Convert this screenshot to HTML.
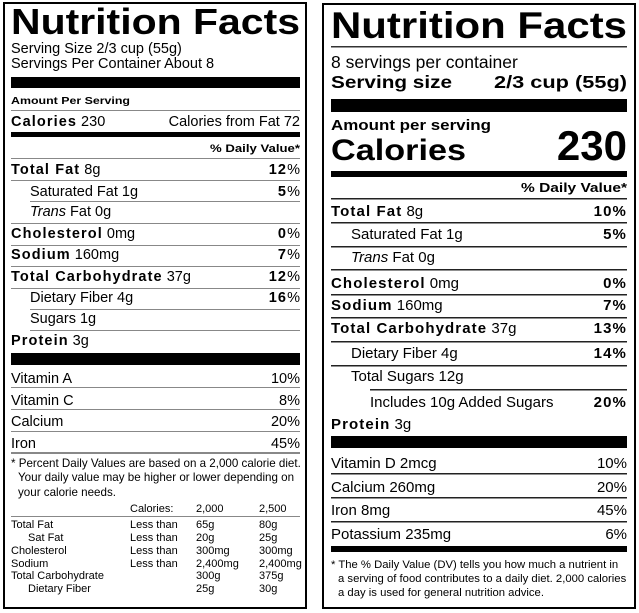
<!DOCTYPE html>
<html><head><meta charset="utf-8"><style>
html,body{margin:0;padding:0;background:#fff}
svg{display:block}
text{font-family:"Liberation Sans",Arial,sans-serif;fill:#000}
.b{font-weight:bold;letter-spacing:1.1px}
.t{font-weight:bold}
</style></head><body>
<svg width="639" height="613" viewBox="0 0 639 613" xmlns="http://www.w3.org/2000/svg">
<!-- LEFT LABEL -->
<rect x="4" y="3" width="302" height="605" fill="none" stroke="#000" stroke-width="2"/>
<text x="11" y="34" font-size="36" class="t" textLength="289" lengthAdjust="spacingAndGlyphs">Nutrition Facts</text>
<text x="11" y="53" font-size="14.5">Serving Size 2/3 cup (55g)</text>
<text x="11" y="68" font-size="14.5">Servings Per Container About 8</text>
<rect x="11" y="77" width="289" height="11" fill="#000"/>
<text x="11" y="104" font-size="10" class="t" textLength="119" lengthAdjust="spacingAndGlyphs">Amount Per Serving</text>
<rect x="11" y="110" width="289" height="1" fill="#888"/>
<text x="11" y="126" font-size="14.5"><tspan class="b">Calories</tspan> 230</text>
<text x="300" y="126" font-size="14.5" text-anchor="end">Calories from Fat 72</text>
<rect x="11" y="132" width="289" height="5" fill="#000"/>
<text x="210" y="152" font-size="11" class="t" textLength="90" lengthAdjust="spacingAndGlyphs">% Daily Value*</text>
<g fill="#888">
<rect x="11" y="158" width="289" height="1"/>
<rect x="11" y="180" width="289" height="1"/>
<rect x="30" y="201" width="270" height="1"/>
<rect x="11" y="223" width="289" height="1"/>
<rect x="11" y="245" width="289" height="1"/>
<rect x="11" y="266" width="289" height="1"/>
<rect x="11" y="288" width="289" height="1"/>
<rect x="30" y="309" width="270" height="1"/>
<rect x="30" y="330" width="270" height="1"/>
<rect x="11" y="387" width="289" height="1"/>
<rect x="11" y="409" width="289" height="1"/>
<rect x="11" y="431" width="289" height="1"/>
<rect x="11" y="452" width="289" height="2"/>
<rect x="11" y="516" width="289" height="1"/>
</g>
<g font-size="14.5">
<text x="11" y="174"><tspan class="b">Total Fat</tspan> 8g</text>
<text x="300" y="174" text-anchor="end"><tspan class="b">12</tspan>%</text>
<text x="30" y="196">Saturated Fat 1g</text>
<text x="300" y="196" text-anchor="end"><tspan class="b">5</tspan>%</text>
<text x="30" y="216"><tspan font-style="italic">Trans</tspan> Fat 0g</text>
<text x="11" y="238"><tspan class="b">Cholesterol</tspan> 0mg</text>
<text x="300" y="238" text-anchor="end"><tspan class="b">0</tspan>%</text>
<text x="11" y="259"><tspan class="b">Sodium</tspan> 160mg</text>
<text x="300" y="259" text-anchor="end"><tspan class="b">7</tspan>%</text>
<text x="11" y="281"><tspan class="b">Total Carbohydrate</tspan> 37g</text>
<text x="300" y="281" text-anchor="end"><tspan class="b">12</tspan>%</text>
<text x="30" y="302">Dietary Fiber 4g</text>
<text x="300" y="302" text-anchor="end"><tspan class="b">16</tspan>%</text>
<text x="30" y="323">Sugars 1g</text>
<text x="11" y="345"><tspan class="b">Protein</tspan> 3g</text>
<text x="11" y="383">Vitamin A</text><text x="300" y="383" text-anchor="end">10%</text>
<text x="11" y="405">Vitamin C</text><text x="300" y="405" text-anchor="end">8%</text>
<text x="11" y="426">Calcium</text><text x="300" y="426" text-anchor="end">20%</text>
<text x="11" y="448">Iron</text><text x="300" y="448" text-anchor="end">45%</text>
</g>
<rect x="11" y="353" width="289" height="12" fill="#000"/>
<g font-size="11.6">
<text x="11" y="467">* Percent Daily Values are based on a 2,000 calorie diet.</text>
<text x="18" y="481">Your daily value may be higher or lower depending on</text>
<text x="18" y="496">your calorie needs.</text>
</g>
<g font-size="11">
<text x="130" y="512">Calories:</text><text x="196" y="512">2,000</text><text x="259" y="512">2,500</text>
<text x="11" y="528">Total Fat</text><text x="130" y="528">Less than</text><text x="196" y="528">65g</text><text x="259" y="528">80g</text>
<text x="28" y="541">Sat Fat</text><text x="130" y="541">Less than</text><text x="196" y="541">20g</text><text x="259" y="541">25g</text>
<text x="11" y="554">Cholesterol</text><text x="130" y="554">Less than</text><text x="196" y="554">300mg</text><text x="259" y="554">300mg</text>
<text x="11" y="567">Sodium</text><text x="130" y="567">Less than</text><text x="196" y="567">2,400mg</text><text x="259" y="567">2,400mg</text>
<text x="11" y="579">Total Carbohydrate</text><text x="196" y="579">300g</text><text x="259" y="579">375g</text>
<text x="28" y="592">Dietary Fiber</text><text x="196" y="592">25g</text><text x="259" y="592">30g</text>
</g>

<!-- RIGHT LABEL -->
<rect x="323" y="4" width="312" height="604" fill="none" stroke="#000" stroke-width="2"/>
<text x="331" y="38" font-size="37" class="t" textLength="296" lengthAdjust="spacingAndGlyphs">Nutrition Facts</text>
<rect x="331" y="46" width="296" height="1.5" fill="#333"/>
<text x="331" y="68" font-size="17.5">8 servings per container</text>
<text x="331" y="88" font-size="17.5" class="t" textLength="121" lengthAdjust="spacingAndGlyphs">Serving size</text>
<text x="494" y="88" font-size="17.5" class="t" textLength="133" lengthAdjust="spacingAndGlyphs">2/3 cup (55g)</text>
<rect x="331" y="99" width="296" height="13" fill="#000"/>
<text x="331" y="130" font-size="14.5" class="t" textLength="160" lengthAdjust="spacingAndGlyphs">Amount per serving</text>
<text x="331" y="160" font-size="30" class="t" textLength="135" lengthAdjust="spacingAndGlyphs">Calories</text>
<text x="627" y="160" font-size="42" class="t" text-anchor="end">230</text>
<rect x="331" y="171" width="296" height="6" fill="#000"/>
<text x="521" y="192" font-size="13" class="t" textLength="106" lengthAdjust="spacingAndGlyphs">% Daily Value*</text>
<g fill="#222">
<rect x="331" y="198" width="296" height="1.5"/>
<rect x="331" y="222" width="296" height="1.5"/>
<rect x="331" y="246" width="296" height="1.5"/>
<rect x="331" y="269" width="296" height="1.5"/>
<rect x="331" y="294" width="296" height="1.5"/>
<rect x="331" y="317" width="296" height="1.5"/>
<rect x="331" y="341" width="296" height="1.5"/>
<rect x="331" y="365" width="296" height="1.5"/>
<rect x="370" y="389" width="257" height="1.5"/>
<rect x="331" y="473" width="296" height="1.5"/>
<rect x="331" y="497" width="296" height="1.5"/>
<rect x="331" y="521" width="296" height="1.5"/>
</g>
<g font-size="15">
<text x="331" y="216"><tspan class="b">Total Fat</tspan> 8g</text>
<text x="627" y="216" class="b" text-anchor="end">10%</text>
<text x="351" y="239">Saturated Fat 1g</text>
<text x="627" y="239" class="b" text-anchor="end">5%</text>
<text x="351" y="262"><tspan font-style="italic">Trans</tspan> Fat 0g</text>
<text x="331" y="288"><tspan class="b">Cholesterol</tspan> 0mg</text>
<text x="627" y="288" class="b" text-anchor="end">0%</text>
<text x="331" y="310"><tspan class="b">Sodium</tspan> 160mg</text>
<text x="627" y="310" class="b" text-anchor="end">7%</text>
<text x="331" y="333"><tspan class="b">Total Carbohydrate</tspan> 37g</text>
<text x="627" y="333" class="b" text-anchor="end">13%</text>
<text x="351" y="358">Dietary Fiber 4g</text>
<text x="627" y="358" class="b" text-anchor="end">14%</text>
<text x="351" y="381">Total Sugars 12g</text>
<text x="370" y="407">Includes 10g Added Sugars</text>
<text x="627" y="407" class="b" text-anchor="end">20%</text>
<text x="331" y="429"><tspan class="b">Protein</tspan> 3g</text>
<text x="331" y="468">Vitamin D 2mcg</text><text x="627" y="468" text-anchor="end">10%</text>
<text x="331" y="492">Calcium 260mg</text><text x="627" y="492" text-anchor="end">20%</text>
<text x="331" y="515">Iron 8mg</text><text x="627" y="515" text-anchor="end">45%</text>
<text x="331" y="539">Potassium 235mg</text><text x="627" y="539" text-anchor="end">6%</text>
</g>
<rect x="331" y="436" width="296" height="12" fill="#000"/>
<rect x="331" y="546" width="296" height="6" fill="#000"/>
<g font-size="11.3">
<text x="331" y="568">* The % Daily Value (DV) tells you how much a nutrient in</text>
<text x="338" y="582">a serving of food contributes to a daily diet. 2,000 calories</text>
<text x="338" y="596">a day is used for general nutrition advice.</text>
</g>
</svg>
</body></html>
